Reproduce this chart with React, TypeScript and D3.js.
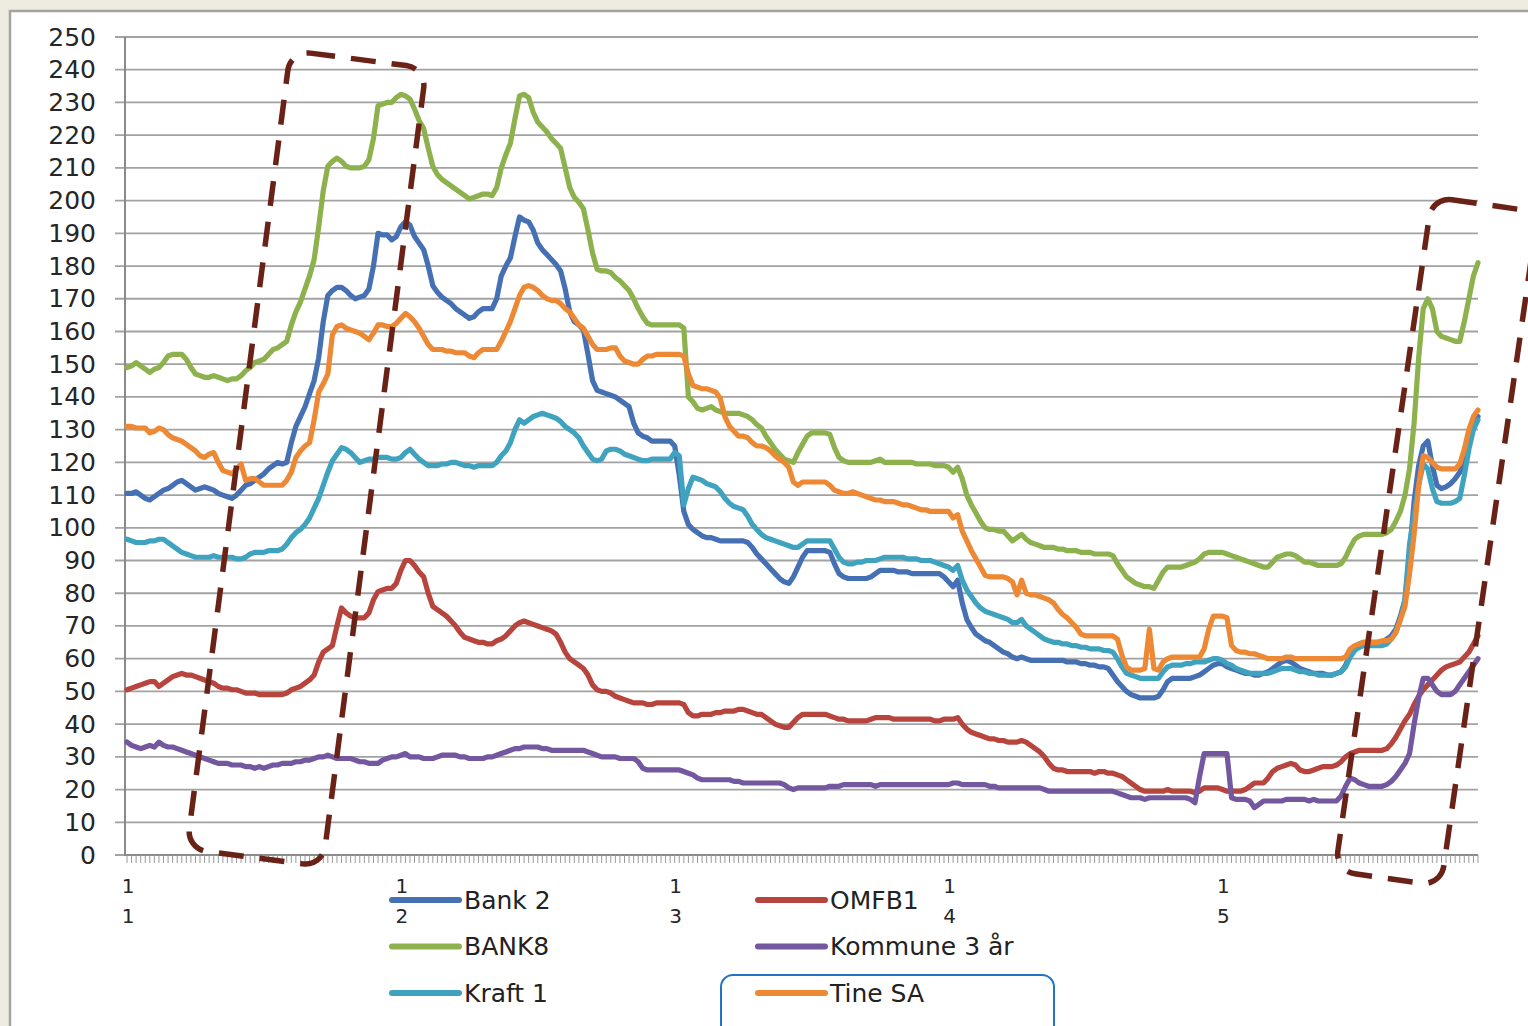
import React from "react";
import * as d3 from "d3";

// ---------- data ----------
const categories: number[] = d3.range(1, 298);
const yTickValues = [0, 10, 20, 30, 40, 50, 60, 70, 80, 90, 100, 110, 120, 130, 140, 150, 160, 170, 180, 190, 200, 210, 220, 230, 240, 250];
const xLabelIndex = [0, 60, 120, 180, 240];
const xLabelTop = ["1", "1", "1", "1", "1"];
const xLabelBottom = ["1", "2", "3", "4", "5"];

const bank2 = [
  110.5,110.5,111,110,109,108.5,109.5,110.5,111.5,112,
  113,114,114.5,113.5,112.5,111.5,112,112.5,112,111.5,
  110.5,110,109.5,109,110,111.5,113,113.5,114.5,115.5,
  116.5,118,119,120,119.5,120,126,131,134,137,
  141,145,152,163,171,172.5,173.5,173.5,172.5,171,
  170,170.5,171,173,180,190,189.5,189.5,188,189,
  192,193.5,192.5,189,187,185,180,174,172,170.5,
  169.5,168.5,167,166,165,164,164.5,166,167,167,
  167,170,177,180,182.5,189,195,194,193.5,191,
  187,185,183.5,182,180.5,178.5,173,166,163,162,
  160.5,153,145,142,141.5,141,140.5,140,139,138,
  137,132,129,128,127.5,126.5,126.5,126.5,126.5,126.5,
  125,116,105,101,99.5,98.5,97.5,97,97,96.5,
  96,96,96,96,96,96,95.5,94,92,90.5,
  89,87.5,86,84.5,83.5,83,85,88,91,93,
  93,93,93,93,92.5,89,86,85,84.5,84.5,
  84.5,84.5,84.5,85,86,87,87,87,87,86.5,
  86.5,86.5,86,86,86,86,86,86,86,85,
  83.5,82,84,77,72,69.5,67.5,66.5,65.5,65,
  64,63,62,61.5,60.5,60,60.5,60,59.5,59.5,
  59.5,59.5,59.5,59.5,59.5,59.5,59,59,59,58.5,
  58.5,58,58,57.5,57.5,57,55,53,51.5,50,
  49,48.5,48,48,48,48,48.5,50.5,53,54,
  54,54,54,54,54.5,55,56,57,58,58.5,
  58.5,57.5,57,56.5,56,55.5,55.5,55,55,55.5,
  56,57,58,59,59.5,59,58,57,56.5,56,
  55.5,55.5,55.5,55,55,55.5,56,58,61.5,63.5,
  64.5,65,65,65,65,65,66,67,69,73,
  78,92,108,119,125,126.5,119,113,112,112.5,
  113.5,115,117,120,126,131,134
];

const bank8 = [
  149,149.5,150.5,149.5,148.5,147.5,148.5,149,150.5,152.5,
  153,153,153,151.5,149,147,146.5,146,146,146.5,
  146,145.5,145,145.5,145.5,146.5,148,149,150.5,151,
  151.5,153,154.5,155,156,157,162,166,169,173,
  177,182,192,203,210.5,212,213,212,210.5,210,
  210,210,210.5,212.5,219,229,229.5,230,230,231.5,
  232.5,232,231,228,224.5,222,216,210.5,208,206.5,
  205.5,204.5,203.5,202.5,201.5,200.5,201,201.5,202,202,
  201.5,204,210,214,217.5,225,232,232.5,231.5,227,
  224,222.5,221,219,217.5,216,210,204,201,199.5,
  197.5,191,184,179,178.5,178.5,178,176.5,175.5,174,
  172.5,170,167,164.5,162.5,162,162,162,162,162,
  162,162,161,140,138.5,136.5,136,136.5,137,136,
  135.5,135,135,135,135,134.5,134,133,131.5,130.5,
  128,126,124,122.5,121,120.5,120,123,125.5,128,
  129,129,129,129,128.5,124.5,121.5,120.5,120,120,
  120,120,120,120,120.5,121,120,120,120,120,
  120,120,120,119.5,119.5,119.5,119.5,119,119,119,
  118.5,117,118.5,115,110,107,104.5,102,100,99.5,
  99.5,99,99,97.5,96,97,98,96.5,95.5,95,
  94.5,94,94,94,93.5,93.5,93,93,93,92.5,
  92.5,92.5,92,92,92,92,91.5,89,87,85,
  84,83,82.5,82,82,81.5,84,86.5,88,88,
  88,88,88.5,89,89.5,90.5,92,92.5,92.5,92.5,
  92.5,92,91.5,91,90.5,90,89.5,89,88.5,88,
  88,89.5,91,91.5,92,92,91.5,90.5,89.5,89.5,
  89,88.5,88.5,88.5,88.5,88.5,89,91,94,96.5,
  97.5,98,98,98,98,98,98.5,99.5,102,105,
  110,118,132,152,167,170,167,160,158.5,158,
  157.5,157,157,163,170,177,181
];

const kraft1 = [
  96.5,96,95.5,95.5,95.5,96,96,96.5,96.5,95.5,
  94.5,93.5,92.5,92,91.5,91,91,91,91,91.5,
  91,91,91,91,90.5,90.5,91,92,92.5,92.5,
  92.5,93,93,93,93.5,95,97,98.5,99.5,101,
  103,106,109,113,117,120.5,122.5,124.5,124,123,
  121.5,120,120.5,121,121,121.5,121.5,121.5,121,121,
  121.5,123,124,122.5,121,120,119,119,119,119.5,
  119.5,120,120,119.5,119,119,118.5,119,119,119,
  119,120,122,123.5,126,130,133,132,133,134,
  134.5,135,134.5,134,133.5,132.5,131,130,129,127.5,
  125,123,121,120.5,121,123.5,124,124,123.5,122.5,
  122,121.5,121,120.5,120.5,121,121,121,121,121,
  123,122,107,112,115.5,115,114.5,113.5,113,112.5,
  111,109,107.5,106.5,106,105.5,103.5,101,99.5,98,
  97,96.5,96,95.5,95,94.5,94,94,95,96,
  96,96,96,96,96,93.5,91,89.5,89,89,
  89.5,89.5,90,90,90,90.5,91,91,91,91,
  91,90.5,90.5,90.5,90,90,90,89.5,89,88.5,
  88,87,88.5,84,81,79,77,75.5,74.5,74,
  73.5,73,72.5,72,71,71,72,70,69,68,
  67,66,65.5,65,65,64.5,64.5,64,64,63.5,
  63.5,63,63,63,62.5,62.5,62,60,57.5,55.5,
  55,54.5,54,54,54,54,54,56,57.5,58,
  58,58,58.5,58.5,59,59,59,59.5,60,60,
  59.5,58.5,58,57,56.5,56,55.5,55.5,55.5,55.5,
  55.5,56,56.5,57,57,57,56.5,56,56,55.5,
  55.5,55,55,55,55,55.5,56,57.5,60.5,62.5,
  63.5,64,64,64,64,64,64.5,66,68,72,
  78,95,104,113,119.5,118,112,108,107.5,107.5,
  107.5,108,109,116,124,130,133
];

const omfb1 = [
  50.5,51,51.5,52,52.5,53,53,51.5,52.5,53.5,
  54.5,55,55.5,55,55,54.5,54,53.5,53,52.5,
  51.5,51,51,50.5,50.5,50,49.5,49.5,49.5,49,
  49,49,49,49,49,49.5,50.5,51,51.5,52.5,
  53.5,55,59,62,63,64,70,75.5,74,73,
  72.5,72.5,72.5,74,78,80.5,81,81.5,81.5,83,
  87,90,90,88.5,86.5,85,80,76,75,74,
  73,71.5,70,68,66.5,66,65.5,65,65,64.5,
  64.5,65.5,66,67,68.5,70,71,71.5,71,70.5,
  70,69.5,69,68.5,67.5,65,62,60,59,58,
  57,55,52,50.5,50,50,49.5,48.5,48,47.5,
  47,46.5,46.5,46.5,46,46,46.5,46.5,46.5,46.5,
  46.5,46.5,46,43.5,42.5,42.5,43,43,43,43.5,
  43.5,44,44,44,44.5,44.5,44,43.5,43,43,
  42,41,40,39.5,39,39,40.5,42,43,43,
  43,43,43,43,42.5,42,41.5,41.5,41,41,
  41,41,41,41.5,42,42,42,42,41.5,41.5,
  41.5,41.5,41.5,41.5,41.5,41.5,41.5,41,41,41.5,
  41.5,41.5,42,40,38.5,37.5,37,36.5,36,35.5,
  35.5,35,35,34.5,34.5,34.5,35,34.5,33.5,32.5,
  31.5,30,28,26.5,26,26,25.5,25.5,25.5,25.5,
  25.5,25.5,25,25.5,25.5,25,25,24.5,24,23,
  22,21,20,19.5,19.5,19.5,19.5,19.5,20,19.5,
  19.5,19.5,19.5,19.5,19,19.5,20.5,20.5,20.5,20.5,
  20,19.5,19.5,19.5,19.5,20,21,22,22,22,
  23.5,25.5,26.5,27,27.5,28,27.5,26,25.5,25.5,
  26,26.5,27,27,27,27.5,28.5,30,31,31.5,
  32,32,32,32,32,32,32.5,34,36,38.5,
  41,43,46,48.5,50.5,52,53.5,55,56.5,57.5,
  58,58.5,59,60.5,62,64.5,67
];

const kommune3 = [
  34.5,33.5,33,32.5,33,33.5,33,34.5,33.5,33,
  33,32.5,32,31.5,31,30.5,30,29.5,29,28.5,
  28,28,28,27.5,27.5,27.5,27,27,26.5,27,
  26.5,27,27.5,27.5,28,28,28,28.5,28.5,29,
  29,29.5,30,30,30.5,30,29.5,29.5,29.5,29.5,
  29,28.5,28.5,28,28,28,29,29.5,30,30,
  30.5,31,30,30,30,29.5,29.5,29.5,30,30.5,
  30.5,30.5,30.5,30,30,29.5,29.5,29.5,29.5,30,
  30,30.5,31,31.5,32,32.5,32.5,33,33,33,
  33,32.5,32.5,32,32,32,32,32,32,32,
  32,31.5,31,30.5,30,30,30,30,29.5,29.5,
  29.5,29.5,28.5,26.5,26,26,26,26,26,26,
  26,26,25.5,25,24.5,23.5,23,23,23,23,
  23,23,23,22.5,22.5,22,22,22,22,22,
  22,22,22,22,21.5,20.5,20,20.5,20.5,20.5,
  20.5,20.5,20.5,20.5,21,21,21,21.5,21.5,21.5,
  21.5,21.5,21.5,21.5,21,21.5,21.5,21.5,21.5,21.5,
  21.5,21.5,21.5,21.5,21.5,21.5,21.5,21.5,21.5,21.5,
  21.5,22,22,21.5,21.5,21.5,21.5,21.5,21.5,21,
  21,20.5,20.5,20.5,20.5,20.5,20.5,20.5,20.5,20.5,
  20.5,20,19.5,19.5,19.5,19.5,19.5,19.5,19.5,19.5,
  19.5,19.5,19.5,19.5,19.5,19.5,19.5,19,18.5,18,
  17.5,17.5,17.5,17,17.5,17.5,17.5,17.5,17.5,17.5,
  17.5,17.5,17.5,17,16,24,31,31,31,31,
  31,31,17.5,17,17,17,16.5,14.5,15.5,16.5,
  16.5,16.5,16.5,16.5,17,17,17,17,17,16.5,
  17,16.5,16.5,16.5,16.5,16.5,18,21,23.5,23,
  22,21.5,21,21,21,21,21.5,22.5,24,26,
  28,31,40,48,54,54,52,50,49,49,
  49,50,52,54,56,58,60
];

const tineSA = [
  131,131,130.5,130.5,130.5,129,129.5,130.5,130,128.5,
  127.5,127,126.5,125.5,124.5,123.5,122,121.5,122.5,123,
  120,117.5,117,116.5,118,119.5,114.5,115,115,114,
  113,113,113,113,113,114.5,117,121.5,123.5,125,
  126,133,141.5,144,147,159,161.5,162,161,160.5,
  160,159.5,158.5,157.5,159.5,162,162,161.5,161.5,162.5,
  164,165.5,164.5,163,161,158.5,156,154.5,154.5,154.5,
  154,154,153.5,153.5,153.5,152.5,152,153.5,154.5,154.5,
  154.5,154.5,157,160,163,167,171,173.5,174,173.5,
  172.5,171,170,169.5,169.5,168.5,167,166,164,162,
  161,158.5,156,154.5,154.5,154.5,155,155,152.5,151,
  150.5,150,150,151.5,152.5,152.5,153,153,153,153,
  153,153,152.5,147,143.5,143,142.5,142.5,142,141.5,
  139.5,134,131,129.5,128,128,127.5,126,125,125,
  124.5,123.5,122,121,120,118.5,114,113,114,114,
  114,114,114,114,113,111.5,111,110.5,110.5,111,
  110.5,110,109.5,109,108.5,108.5,108,108,108,107.5,
  107,107,106.5,106,105.5,105.5,105,105,105,105,
  105,103,104,99,96,93,90.5,88,85.5,85,
  85,85,85,84.5,83.5,79.5,84,80,79.5,79.5,
  79,78.5,78,77,75,73.5,72.5,71,69.5,67.5,
  67,67,67,67,67,67,67,66,61,57.5,
  56.5,56.5,56.5,57,69,57,56.5,59,60,60.5,
  60.5,60.5,60.5,60.5,60.5,60.5,63,69,73,73,
  73,72.5,64,62.5,62,62,61.5,61.5,61,60.5,
  60,60,60,60,60.5,60.5,60,60,60,60,
  60,60,60,60,60,60,60,60.5,63,64,
  64.5,65,65,65,65,65.5,65.5,66,68,72,
  76,86,98,113,122,121.5,120,118.5,118,118,
  118,118,119.5,124,130,134,136
];

const seriesNames = ["Bank 2", "BANK8", "Kraft 1", "OMFB1", "Kommune 3 år", "Tine SA"];
const seriesColors = ["#4571b4", "#8cb14d", "#3fa3c0", "#b8443e", "#73579f", "#ed8935"];
const seriesValues = [bank2, bank8, kraft1, omfb1, kommune3, tineSA];

// ---------- layout ----------
const W = 1528;
const H = 1026;
const PLOT = { left: 125, right: 1478, top: 37, bottom: 855, firstX: 127 };
const FONT = "'DejaVu Sans', Verdana, sans-serif";
const BOX_COLOR = "#6a2216";

export default function App() {
  const x = d3.scaleLinear().domain([0, categories.length - 1]).range([PLOT.firstX, PLOT.right]);
  const y = d3.scaleLinear().domain([0, 250]).range([PLOT.bottom, PLOT.top]);
  const line = d3
    .line<number>()
    .x((_d, i) => x(i))
    .y((d) => y(d));

  const legendRows = [900, 946.5, 993];
  const legendCols = [
    { sx1: 392, sx2: 459, tx: 464 },
    { sx1: 758, sx2: 825, tx: 830 },
  ];

  return (
    <svg
      width={W}
      height={H}
      viewBox={`0 0 ${W} ${H}`}
      style={{ position: "absolute", left: 0, top: 0, display: "block" }}
    >
      <rect x={0} y={0} width={W} height={H} fill="#eeece1" />
      <rect x={10} y={11} width={W + 20} height={H + 20} fill="#ffffff" stroke="#a3a3a3" strokeWidth={2.5} />

      {/* gridlines + y ticks */}
      {yTickValues.map((v) => (
        <g key={v}>
          <line x1={115} x2={PLOT.right} y1={y(v)} y2={y(v)} stroke="#a2a2a2" strokeWidth={1.8} />
          <text
            x={96}
            y={y(v)}
            textAnchor="end"
            dominantBaseline="central"
            fontFamily={FONT}
            fontSize={25}
            fill="#262626"
          >
            {v}
          </text>
        </g>
      ))}

      {/* axes */}
      <line x1={PLOT.left} x2={PLOT.left} y1={PLOT.top} y2={PLOT.bottom + 1} stroke="#8a8a8a" strokeWidth={2} />
      <line x1={PLOT.left} x2={PLOT.right} y1={PLOT.bottom} y2={PLOT.bottom} stroke="#8a8a8a" strokeWidth={2} />
      {categories.map((c, i) => (
        <line
          key={c}
          x1={x(i)}
          x2={x(i)}
          y1={PLOT.bottom}
          y2={PLOT.bottom + 8}
          stroke="#9a9a9a"
          strokeWidth={1}
        />
      ))}

      {/* x labels */}
      {xLabelIndex.map((idx, k) => (
        <g key={idx} fontFamily={FONT} fontSize={20} fill="#262626" textAnchor="middle">
          <text x={x(idx) + 1} y={893}>
            {xLabelTop[k]}
          </text>
          <text x={x(idx) + 1} y={923}>
            {xLabelBottom[k]}
          </text>
        </g>
      ))}

      {/* series */}
      {seriesValues.map((vals, s) => (
        <path
          key={seriesNames[s]}
          d={line(vals) || ""}
          fill="none"
          stroke={seriesColors[s]}
          strokeWidth={5.2}
          strokeLinejoin="round"
          strokeLinecap="round"
        />
      ))}

      {/* legend */}
      {seriesNames.map((name, s) => {
        const col = legendCols[Math.floor(s / 3)];
        const rowY = legendRows[s % 3];
        return (
          <g key={name}>
            <line
              x1={col.sx1}
              x2={col.sx2}
              y1={rowY}
              y2={rowY}
              stroke={seriesColors[s]}
              strokeWidth={6}
              strokeLinecap="round"
            />
            <text
              x={col.tx}
              y={rowY}
              dominantBaseline="central"
              fontFamily={FONT}
              fontSize={25}
              fill="#222"
            >
              {name}
            </text>
          </g>
        );
      })}

      {/* blue rounded highlight */}
      <rect x={721} y={975} width={333} height={90} rx={12} ry={12} fill="none" stroke="#1f74c4" strokeWidth={2} />

      {/* dashed annotation boxes */}
      <g transform="translate(306.5,458.5) rotate(7.4)">
        <rect
          x={-68.5}
          y={-402.5}
          width={137}
          height={805}
          rx={20}
          ry={20}
          fill="none"
          stroke={BOX_COLOR}
          strokeWidth={5.5}
          strokeDasharray="25 16"
        />
      </g>
      <g transform="translate(1436.5,541.5) rotate(8.2)">
        <rect
          x={-53.5}
          y={-340.5}
          width={107}
          height={681}
          rx={20}
          ry={20}
          fill="none"
          stroke={BOX_COLOR}
          strokeWidth={5.5}
          strokeDasharray="25 16"
        />
      </g>
    </svg>
  );
}
